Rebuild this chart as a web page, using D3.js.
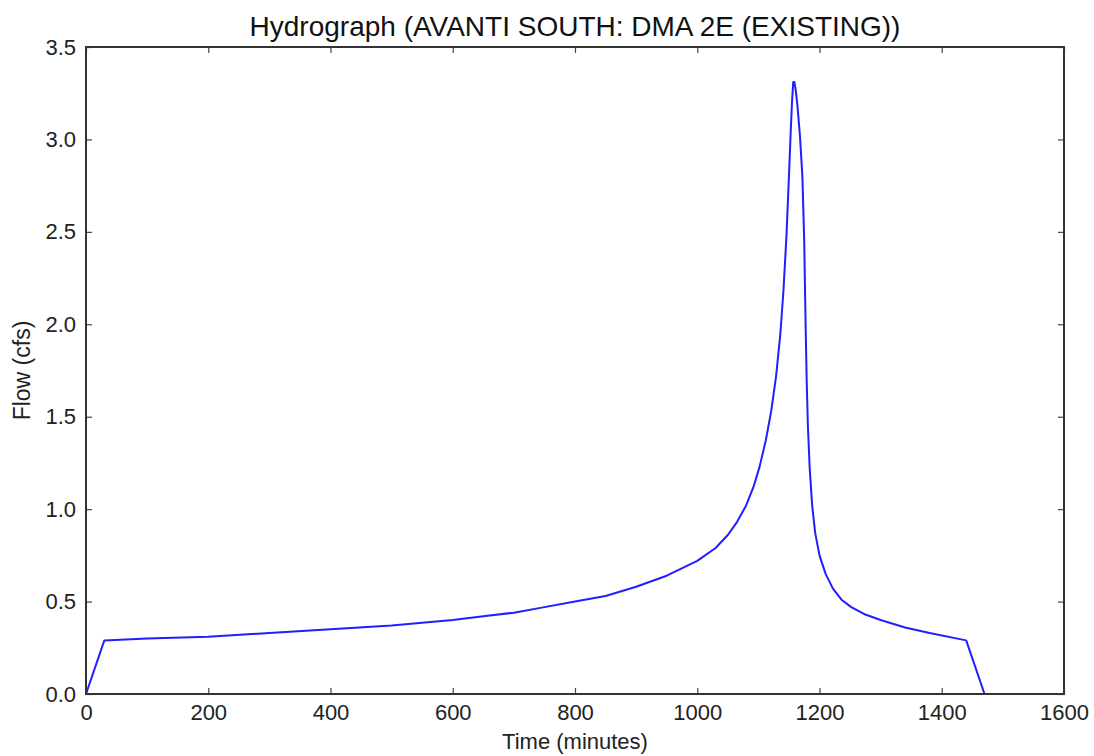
<!DOCTYPE html>
<html>
<head>
<meta charset="utf-8">
<script src="https://cdn.jsdelivr.net/npm/d3@7"></script>
<style>
  body { margin: 0; background: #fff; }
  svg { font-family: "Liberation Sans", Arial, sans-serif; }
</style>
</head>
<body>
<div id="chart"></div>
<script>
// hydrograph values
var timeMin = [0, 30, 100, 200, 300, 400, 500, 600, 650, 700, 750, 800, 850, 900, 950, 1000, 1030, 1050, 1065, 1080, 1092, 1102, 1112, 1121, 1129, 1136, 1141, 1146, 1150, 1153, 1155, 1157, 1159, 1161, 1164, 1168, 1172, 1175, 1177, 1179, 1181, 1184, 1188, 1193, 1200, 1210, 1222, 1236, 1252, 1275, 1300, 1340, 1380, 1440, 1470];
var flowCfs = [0, 0.29, 0.30, 0.31, 0.33, 0.35, 0.37, 0.40, 0.42, 0.44, 0.47, 0.50, 0.53, 0.58, 0.64, 0.72, 0.79, 0.86, 0.93, 1.02, 1.12, 1.23, 1.37, 1.53, 1.72, 1.95, 2.18, 2.48, 2.80, 3.05, 3.20, 3.31, 3.31, 3.27, 3.18, 3.02, 2.80, 2.45, 2.05, 1.70, 1.45, 1.22, 1.02, 0.87, 0.75, 0.65, 0.57, 0.51, 0.47, 0.43, 0.40, 0.36, 0.33, 0.29, 0];
var xTicks = [0, 200, 400, 600, 800, 1000, 1200, 1400, 1600];
var yTicks = [0, 0.5, 1.0, 1.5, 2.0, 2.5, 3.0, 3.5];

var width = 1094, height = 756;
var margin = {left: 86, right: 30, top: 47, bottom: 62};
var innerW = width - margin.left - margin.right;
var innerH = height - margin.top - margin.bottom;
var tickLen = 6;

var svg = d3.select("#chart").append("svg")
    .attr("width", width)
    .attr("height", height);

var g = svg.append("g")
    .attr("transform", "translate(" + margin.left + "," + margin.top + ")");

var x = d3.scaleLinear().domain([0, 1600]).range([0, innerW]);
var y = d3.scaleLinear().domain([0, 3.5]).range([innerH, 0]);

var data = timeMin.map(function(t, i) { return {t: t, q: flowCfs[i]}; });

// the hydrograph line
var line = d3.line()
    .x(function(d) { return x(d.t); })
    .y(function(d) { return y(d.q); });

g.append("path")
    .datum(data)
    .attr("d", line)
    .attr("fill", "none")
    .attr("stroke", "#1f1fff")
    .attr("stroke-width", 2)
    .attr("stroke-linejoin", "round");

// inward ticks on all four sides (matplotlib classic look)
var bottomAxis = d3.axisBottom(x).tickValues(xTicks).tickSizeInner(-tickLen).tickSizeOuter(0).tickPadding(10).tickFormat(d3.format("d"));
var topAxis = d3.axisTop(x).tickValues(xTicks).tickSizeInner(-tickLen).tickSizeOuter(0).tickFormat("");
var leftAxis = d3.axisLeft(y).tickValues(yTicks).tickSizeInner(-tickLen).tickSizeOuter(0).tickPadding(10).tickFormat(d3.format(".1f"));
var rightAxis = d3.axisRight(y).tickValues(yTicks).tickSizeInner(-tickLen).tickSizeOuter(0).tickFormat("");

var axes = [
    g.append("g").attr("transform", "translate(0," + innerH + ")").call(bottomAxis),
    g.append("g").call(topAxis),
    g.append("g").call(leftAxis),
    g.append("g").attr("transform", "translate(" + innerW + ",0)").call(rightAxis)
];
axes.forEach(function(a) {
    a.select(".domain").remove();
    a.selectAll(".tick line").attr("stroke", "#444").attr("stroke-width", 1.2);
    a.selectAll(".tick text")
        .attr("fill", "#222")
        .style("font-size", "22px")
        .style("font-family", "'Liberation Sans', Arial, sans-serif");
});

// frame
g.append("rect")
    .attr("x", 0).attr("y", 0)
    .attr("width", innerW).attr("height", innerH)
    .attr("fill", "none")
    .attr("stroke", "#333")
    .attr("stroke-width", 2);

// title and labels
svg.append("text")
    .attr("x", margin.left + innerW / 2)
    .attr("y", 36)
    .attr("text-anchor", "middle")
    .style("font-size", "28px")
    .attr("fill", "#111")
    .text("Hydrograph (AVANTI SOUTH: DMA 2E (EXISTING))");

svg.append("text")
    .attr("x", margin.left + innerW / 2)
    .attr("y", 749)
    .attr("text-anchor", "middle")
    .style("font-size", "22px")
    .attr("fill", "#222")
    .text("Time (minutes)");

svg.append("text")
    .attr("transform", "translate(30," + (margin.top + innerH / 2) + ") rotate(-90)")
    .attr("text-anchor", "middle")
    .style("font-size", "23px")
    .attr("fill", "#222")
    .text("Flow (cfs)");
</script>
</body>
</html>
